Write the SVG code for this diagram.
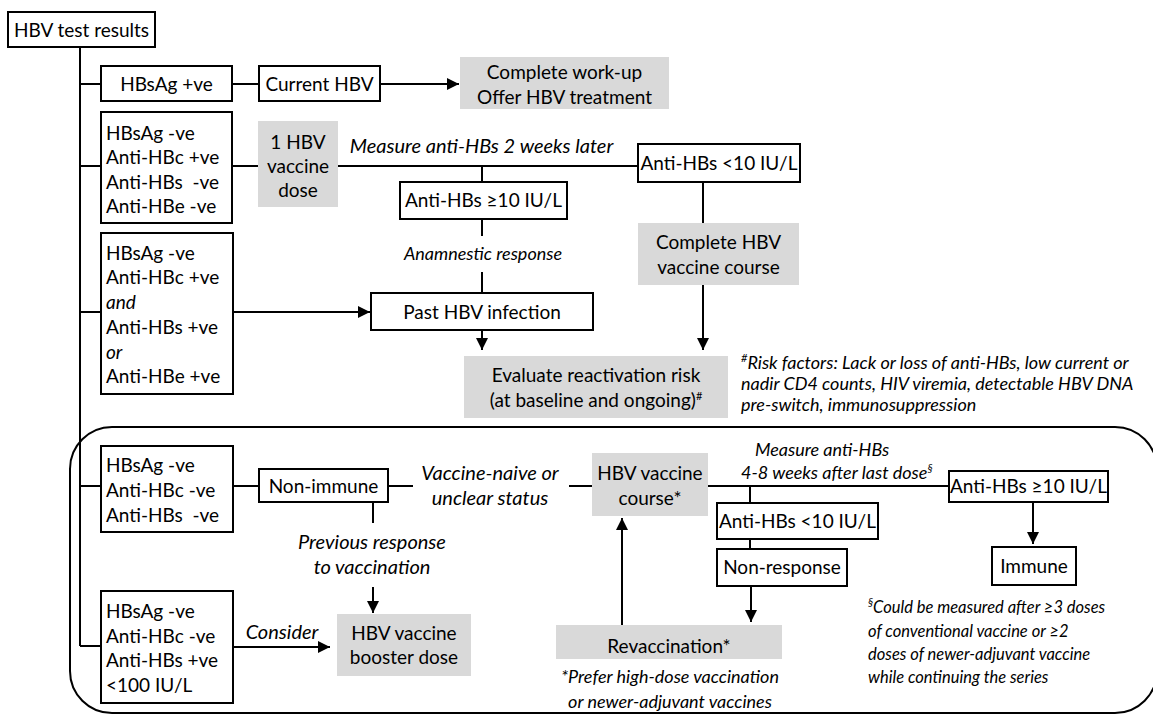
<svg xmlns="http://www.w3.org/2000/svg" width="1153" height="715" viewBox="0 0 1153 715">
<defs>
<marker id="ah" viewBox="0 0 10 10" refX="10" refY="5" markerWidth="6" markerHeight="6" markerUnits="strokeWidth" orient="auto">
<path d="M0,0 L10,5 L0,10 z" fill="#000"/>
</marker>
<style>
text{font-family:Lato,"Open Sans","Liberation Sans",sans-serif;font-size:19px;fill:#000}
.c{text-anchor:middle}
.i{font-style:italic;font-size:18px}
.L{font-size:20px}
.S{font-size:16.5px}
.box{fill:#fff;stroke:#000;stroke-width:2}
.g{fill:#d9d9d9;stroke:none}
.ln{fill:none;stroke:#000;stroke-width:2}
.ar{fill:none;stroke:#000;stroke-width:2;marker-end:url(#ah)}
.sup{font-size:11px}
</style>
</defs>
<rect x="70" y="427" width="1087" height="286" rx="42" ry="42" fill="none" stroke="#000" stroke-width="2"/>
<g id="connectors">
<path class="ln" d="M80,47 V646"/>
<path class="ln" d="M80,84 H101 M80,166 H101 M80,312 H101 M80,486 H101 M80,646 H101"/>
<path class="ln" d="M232,84 H259"/>
<path class="ar" d="M380,84 H459"/>
<path class="ln" d="M232,166 H258 M338,166 H638"/>
<path class="ln" d="M482,166 V182 M482,219 V236 M482,272 V293"/>
<path class="ar" d="M482,330 V350"/>
<path class="ln" d="M703,182 V223"/>
<path class="ar" d="M703,285 V350"/>
<path class="ar" d="M233,312 H370"/>
<path class="ln" d="M233,486 H259 M388,486 H413 M569,486 H592 M708,486 H949"/>
<path class="ln" d="M750,486 V503 M750,539 V549"/>
<path class="ar" d="M751,586 V622"/>
<path class="ar" d="M622,625 V518"/>
<path class="ar" d="M1033,502 V544"/>
<path class="ln" d="M373,502 V523"/>
<path class="ar" d="M373,587 V613"/>
<path class="ar" d="M233,647 H330"/>
</g>
<g id="n_hbv_test"><rect class="box" x="8" y="12" width="147" height="35"/><text class="c" x="81.5" y="37">HBV test results</text></g>
<g id="n_hbsag_pos"><rect class="box" x="101" y="66" width="131" height="35"/><text class="c" x="166.5" y="91">HBsAg +ve</text></g>
<g id="n_current"><rect class="box" x="259" y="66" width="121" height="35"/><text class="c" x="319.5" y="91">Current HBV</text></g>
<g id="n_workup"><rect class="g" x="460" y="57" width="209" height="52"/><text class="c" x="564.5" y="79">Complete work-up</text><text class="c" x="564.5" y="104">Offer HBV treatment</text></g>
<g id="n_box2"><rect class="box" x="101" y="112" width="131" height="111"/><text x="106" y="140">HBsAg -ve</text><text x="106" y="164">Anti-HBc +ve</text><text x="106" y="189" xml:space="preserve">Anti-HBs  -ve</text><text x="106" y="213">Anti-HBe -ve</text></g>
<g id="n_dose"><rect class="g" x="258" y="121" width="80" height="86"/><text class="c" x="298" y="149">1 HBV</text><text class="c" x="298" y="173">vaccine</text><text class="c" x="298" y="197">dose</text></g>
<g id="l_measure1"><text class="c i L" x="481.5" y="153">Measure anti-HBs 2 weeks later</text></g>
<g id="n_lt10a"><rect class="box" x="638" y="144" width="162" height="38"/><text class="c" x="719" y="170">Anti-HBs &lt;10 IU/L</text></g>
<g id="n_ge10a"><rect class="box" x="400" y="182" width="167" height="37"/><text class="c" x="483.5" y="207">Anti-HBs ≥10 IU/L</text></g>
<g id="l_anam"><text class="c i" x="483" y="260">Anamnestic response</text></g>
<g id="n_course"><rect class="g" x="638" y="223" width="161" height="62"/><text class="c" x="718.5" y="249">Complete HBV</text><text class="c" x="718.5" y="274">vaccine course</text></g>
<g id="n_box3"><rect class="box" x="101" y="233" width="132" height="161"/><text x="106" y="260">HBsAg -ve</text><text x="106" y="284">Anti-HBc +ve</text><text x="106" y="309" font-style="italic">and</text><text x="106" y="334">Anti-HBs +ve</text><text x="106" y="359" font-style="italic">or</text><text x="106" y="383">Anti-HBe +ve</text></g>
<g id="n_past"><rect class="box" x="371" y="293" width="222" height="37"/><text class="c" x="482" y="319">Past HBV infection</text></g>
<g id="n_eval"><rect class="g" x="464" y="356" width="264" height="62"/><text class="c" x="596" y="382">Evaluate reactivation risk</text><text class="c" x="596" y="407">(at baseline and ongoing)<tspan class="sup" dy="-7">#</tspan></text></g>
<g id="note_risk"><text class="i" x="741" y="369"><tspan class="sup" dy="-7">#</tspan><tspan dy="7">Risk factors: Lack or loss of anti-HBs, low current or</tspan></text><text class="i" x="741" y="390">nadir CD4 counts, HIV viremia, detectable HBV DNA</text><text class="i" x="741" y="411">pre-switch, immunosuppression</text></g>
<g id="n_box4"><rect class="box" x="101" y="446" width="132" height="86"/><text x="106" y="472">HBsAg -ve</text><text x="106" y="497">Anti-HBc -ve</text><text x="106" y="522" xml:space="preserve">Anti-HBs  -ve</text></g>
<g id="n_nonimmune"><rect class="box" x="259" y="469" width="129" height="33"/><text class="c" x="323.5" y="493">Non-immune</text></g>
<g id="l_naive"><text class="c i L" x="490" y="480">Vaccine-naive or</text><text class="c i L" x="490" y="505">unclear status</text></g>
<g id="n_vcourse"><rect class="g" x="592" y="453" width="116" height="63"/><text class="c" x="650" y="480">HBV vaccine</text><text class="c" x="650" y="505">course*</text></g>
<g id="l_measure2"><text class="c i" x="822" y="456" font-size="19.5">Measure anti-HBs</text><text class="i" x="741" y="479" font-size="19">4-8 weeks after last dose<tspan class="sup" dy="-7">§</tspan></text></g>
<g id="n_ge10b"><rect class="box" x="949" y="471" width="159" height="31"/><text class="c" x="1028.5" y="493">Anti-HBs ≥10 IU/L</text></g>
<g id="n_lt10b"><rect class="box" x="717" y="503" width="161" height="36"/><text class="c" x="797.5" y="528">Anti-HBs &lt;10 IU/L</text></g>
<g id="n_nonresp"><rect class="box" x="717" y="549" width="130" height="37"/><text class="c" x="782" y="574">Non-response</text></g>
<g id="n_immune"><rect class="box" x="992" y="547" width="84" height="38"/><text class="c" x="1034" y="573">Immune</text></g>
<g id="l_prev"><text class="c i L" x="372" y="549">Previous response</text><text class="c i L" x="372" y="574">to vaccination</text></g>
<g id="note_sect"><text class="i S" x="868" y="613"><tspan class="sup" dy="-7">§</tspan><tspan dy="7">Could be measured after ≥3 doses</tspan></text><text class="i S" x="868" y="637">of conventional vaccine or ≥2</text><text class="i S" x="868" y="660">doses of newer-adjuvant vaccine</text><text class="i S" x="868" y="683">while continuing the series</text></g>
<g id="n_box5"><rect class="box" x="101" y="591" width="132" height="112"/><text x="106" y="618">HBsAg -ve</text><text x="106" y="643">Anti-HBc -ve</text><text x="106" y="667">Anti-HBs +ve</text><text x="106" y="692">&lt;100 IU/L</text></g>
<g id="l_consider"><text class="c i L" x="282" y="639">Consider</text></g>
<g id="n_booster"><rect class="g" x="337" y="614" width="134" height="62"/><text class="c" x="404" y="640">HBV vaccine</text><text class="c" x="404" y="664">booster dose</text></g>
<g id="n_revacc"><rect class="g" x="556" y="625" width="226" height="34"/><text class="c" x="669" y="653">Revaccination*</text></g>
<g id="note_prefer"><text class="c i" x="670" y="683">*Prefer high-dose vaccination</text><text class="c i" x="670" y="708">or newer-adjuvant vaccines</text></g>
</svg>
